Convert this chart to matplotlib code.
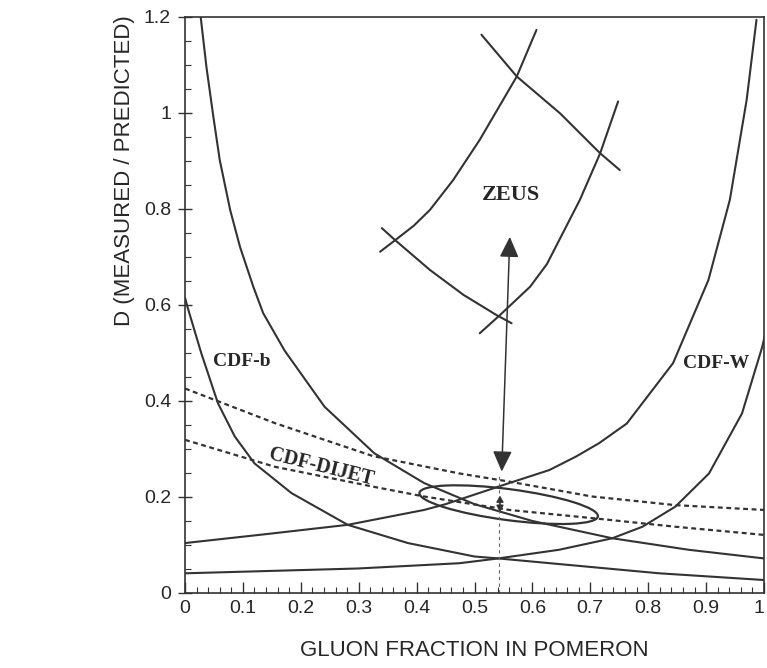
#!/usr/bin/env python3
"""
D (measured / predicted) vs gluon fraction in the pomeron.
Scanned-figure style: CDF-b, CDF-W, CDF-DIJET bands and the ZEUS box.
"""

import matplotlib
matplotlib.use("Agg")
import matplotlib.pyplot as plt
from matplotlib.patches import Ellipse
from matplotlib.transforms import ScaledTranslation
from matplotlib.ticker import MultipleLocator

# ============================================================================
# DATA
# ============================================================================

# CDF-b, outer curve (comes in from the top left)
cdfb_outer_x = [0.027, 0.037, 0.049, 0.060, 0.078, 0.095, 0.118, 0.135, 0.172, 0.241, 0.327,
                0.413, 0.500, 0.600, 0.738, 0.870, 1.0]
cdfb_outer_y = [1.201, 1.096, 0.992, 0.902, 0.798, 0.721, 0.638, 0.583, 0.505, 0.388, 0.291,
                0.229, 0.185, 0.150, 0.114, 0.090, 0.072]

# CDF-b, inner curve (starts at D=0.6 on the axis)
cdfb_inner_x = [0.0, 0.005, 0.028, 0.057, 0.086, 0.120, 0.184, 0.281, 0.385, 0.500, 0.541, 0.819, 1.0]
cdfb_inner_y = [0.615, 0.593, 0.500, 0.395, 0.326, 0.270, 0.208, 0.142, 0.104, 0.076, 0.072, 0.041, 0.027]

# CDF-W, upper curve
cdfw_upper_x = [0.0, 0.143, 0.281, 0.413, 0.450, 0.500, 0.560, 0.629, 0.675, 0.715, 0.763,
                0.843, 0.904, 0.941, 0.970, 0.987]
cdfw_upper_y = [0.104, 0.123, 0.142, 0.173, 0.185, 0.205, 0.229, 0.256, 0.284, 0.312, 0.353,
                0.479, 0.652, 0.819, 1.027, 1.194]

# CDF-W, lower curve
cdfw_lower_x = [0.0, 0.298, 0.474, 0.541, 0.646, 0.738, 0.790, 0.847, 0.905, 0.962, 0.997, 1.005]
cdfw_lower_y = [0.041, 0.051, 0.062, 0.072, 0.090, 0.114, 0.138, 0.180, 0.249, 0.374, 0.513, 0.555]

# CDF-DIJET band (dashed)
dijet_upper_x = [0.0, 0.155, 0.325, 0.474, 0.560, 0.703, 0.847, 1.0]
dijet_upper_y = [0.426, 0.354, 0.285, 0.249, 0.232, 0.201, 0.183, 0.173]
dijet_lower_x = [0.0, 0.155, 0.327, 0.413, 0.560, 0.703, 0.847, 1.0]
dijet_lower_y = [0.319, 0.263, 0.221, 0.201, 0.173, 0.156, 0.138, 0.121]

# ZEUS box, four arcs
zeus_left_x = [0.337, 0.363, 0.395, 0.423, 0.463, 0.509, 0.573, 0.607]
zeus_left_y = [0.711, 0.735, 0.765, 0.798, 0.860, 0.944, 1.076, 1.173]
zeus_top_x = [0.512, 0.573, 0.648, 0.717, 0.751]
zeus_top_y = [1.163, 1.076, 0.999, 0.916, 0.881]
zeus_right_x = [0.509, 0.544, 0.596, 0.625, 0.682, 0.717, 0.748]
zeus_right_y = [0.541, 0.579, 0.638, 0.685, 0.819, 0.916, 1.024]
zeus_bottom_x = [0.340, 0.363, 0.423, 0.481, 0.538, 0.564]
zeus_bottom_y = [0.760, 0.735, 0.673, 0.621, 0.579, 0.562]

# combined fit: best point, error, and the arrow between CDF and ZEUS
fit_x = 0.544
fit_y = 0.186
fit_err = 0.017
fit_line_x = 0.542          # dashed vertical at the best gluon fraction
fit_line_top = 0.25
arrow_from = (0.547, 0.253)
arrow_to = (0.561, 0.742)

# ellipse (centre in data units, size in inches)
ellipse_center = (0.559, 0.184)
ellipse_w_in = 1.80
ellipse_h_in = 0.31
ellipse_angle = -7.5

x_ticks = [0, 0.1, 0.2, 0.3, 0.4, 0.5, 0.6, 0.7, 0.8, 0.9, 1.0]
x_tick_labels = ["0", "0.1", "0.2", "0.3", "0.4", "0.5", "0.6", "0.7", "0.8", "0.9", "1"]
y_ticks = [0, 0.2, 0.4, 0.6, 0.8, 1.0, 1.2]
y_tick_labels = ["0", "0.2", "0.4", "0.6", "0.8", "1", "1.2"]

LINE_COLOR = "#333333"
TEXT_COLOR = "#262626"
SANS = ["Liberation Sans", "DejaVu Sans"]
SERIF = ["Liberation Serif", "DejaVu Serif"]

# ============================================================================
# MAIN SCRIPT
# ============================================================================

def main():
    fig = plt.figure(figsize=(7.67, 6.68), dpi=100)
    ax = fig.add_axes([0.2412, 0.1123, 0.7549, 0.8623])

    solid = dict(color=LINE_COLOR, lw=1.5, solid_capstyle="round", solid_joinstyle="round")
    ax.plot(cdfb_outer_x, cdfb_outer_y, **solid)
    ax.plot(cdfb_inner_x, cdfb_inner_y, **solid)
    ax.plot(cdfw_upper_x, cdfw_upper_y, **solid)
    ax.plot(cdfw_lower_x, cdfw_lower_y, **solid)

    dashed = dict(color=LINE_COLOR, lw=1.6, linestyle=(0, (2.2, 1.6)))
    ax.plot(dijet_upper_x, dijet_upper_y, **dashed)
    ax.plot(dijet_lower_x, dijet_lower_y, **dashed)

    for xs, ys in [(zeus_left_x, zeus_left_y), (zeus_top_x, zeus_top_y),
                   (zeus_right_x, zeus_right_y), (zeus_bottom_x, zeus_bottom_y)]:
        ax.plot(xs, ys, **solid)

    # error ellipse of the combined fit
    trans = fig.dpi_scale_trans + ScaledTranslation(*ellipse_center, ax.transData)
    ax.add_patch(Ellipse((0, 0), ellipse_w_in, ellipse_h_in, angle=ellipse_angle,
                         transform=trans, fill=False, ec=LINE_COLOR, lw=1.6))

    # vertical dashed line at the best fit
    ax.plot([fit_line_x, fit_line_x], [0, fit_line_top], color="#666666",
            lw=0.8, linestyle=(0, (3, 3)))

    # best-fit point with small double arrow
    ax.annotate("", xy=(fit_x, fit_y + fit_err), xytext=(fit_x, fit_y - fit_err),
                arrowprops=dict(arrowstyle="<|-|>,head_length=0.35,head_width=0.2",
                                color=LINE_COLOR, lw=1.2, shrinkA=0, shrinkB=0))

    # arrow between CDF and ZEUS
    ax.annotate("", xy=arrow_to, xytext=arrow_from,
                arrowprops=dict(arrowstyle="<|-|>,head_length=0.9,head_width=0.42",
                                color=LINE_COLOR, lw=1.1, shrinkA=0, shrinkB=0,
                                mutation_scale=14))

    # curve labels
    lab = dict(family=SERIF, fontweight="bold", color=TEXT_COLOR, ha="center", va="center")
    ax.text(0.5625, 0.829, "ZEUS", fontsize=16, **lab)
    ax.text(0.098, 0.482, "CDF-b", fontsize=14, **lab)
    ax.text(0.918, 0.479, "CDF-W", fontsize=14, **lab)
    ax.text(0.236, 0.263, "CDF-DIJET", fontsize=14.5, rotation=-14, **lab)

    # axes
    ax.set_xlim(0, 1)
    ax.set_ylim(0, 1.2)
    ax.set_xticks(x_ticks)
    ax.set_xticklabels(x_tick_labels)
    ax.set_yticks(y_ticks)
    ax.set_yticklabels(y_tick_labels)
    ax.xaxis.set_minor_locator(MultipleLocator(0.02))
    ax.yaxis.set_minor_locator(MultipleLocator(0.05))

    ax.tick_params(axis="x", which="major", direction="in", length=8, width=1.0,
                   pad=5, labelsize=14, colors=LINE_COLOR, labelcolor=TEXT_COLOR)
    ax.tick_params(axis="x", which="minor", direction="in", length=4, width=0.8,
                   colors=LINE_COLOR)
    ax.tick_params(axis="y", which="major", direction="inout", length=10, width=1.0,
                   pad=5, labelsize=14, colors=LINE_COLOR, labelcolor=TEXT_COLOR)
    ax.tick_params(axis="y", which="minor", direction="in", length=4, width=0.8,
                   colors=LINE_COLOR)
    for t in ax.get_xticklabels() + ax.get_yticklabels():
        t.set_family(SANS)
    # the "1" sits right at the figure edge in the scan
    ax.get_xticklabels()[-1].set_ha("right")

    for sp in ax.spines.values():
        sp.set_color(LINE_COLOR)
        sp.set_linewidth(1.2)

    ax.set_xlabel("GLUON FRACTION IN POMERON", family=SANS, fontsize=16,
                  color=TEXT_COLOR, va="center")
    ax.xaxis.set_label_coords(0.499, -0.099)
    ax.set_ylabel("D (MEASURED / PREDICTED)", family=SANS, fontsize=16,
                  color=TEXT_COLOR, va="center", ha="center")
    ax.yaxis.set_label_coords(-0.105, 0.733)

    fig.savefig("out.png", dpi=100)
    print("saved out.png")


if __name__ == "__main__":
    main()
